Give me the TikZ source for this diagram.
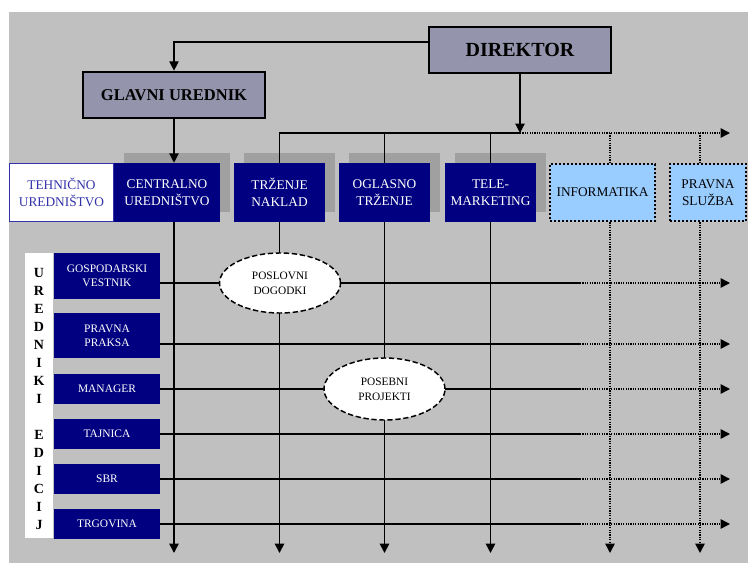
\documentclass[tikz,border=0pt]{standalone}
\usepackage{fontspec}
\setmainfont{Liberation Serif}
\usetikzlibrary{arrows.meta,shapes.geometric,shadows}
\definecolor{bg}{HTML}{C0C0C0}
\definecolor{shade}{HTML}{A0A0A0}
\definecolor{navy}{HTML}{000080}
\definecolor{slate}{HTML}{9494AC}
\definecolor{skyb}{HTML}{99CCFF}
\definecolor{tblue}{HTML}{3333AA}
\begin{document}
\begin{tikzpicture}[x=0.75pt,y=-0.75pt,
  head/.style={draw=black, line width=2pt, fill=slate, inner sep=0pt,
    minimum width=136.5pt, minimum height=34.5pt},
  unit/.style={fill=navy, text=white, font=\fontsize{10}{12.75}\selectfont,
    align=center, inner sep=0pt, minimum height=44.25pt,
    general shadow={fill=shade, shadow xshift=7.5pt, shadow yshift=7.5pt}},
  techbox/.style={fill=white, draw=tblue, line width=0.8pt, text=tblue,
    font=\fontsize{10}{12.75}\selectfont, align=center, inner sep=0pt,
    minimum height=43.5pt},
  dotbox/.style={fill=skyb, draw=black, line width=2pt, dash pattern=on 1.5pt off 1.5pt,
    font=\fontsize{10}{12.75}\selectfont, align=center, inner sep=0pt,
    minimum height=42.75pt},
  edition/.style={fill=navy, text=white, font=\fontsize{8.6}{10.5}\selectfont,
    align=center, inner sep=0pt, minimum width=79.5pt},
  event/.style={ellipse, draw=black, fill=white, line width=1.1pt,
    dash pattern=on 4pt off 2pt, font=\fontsize{8.5}{11}\selectfont,
    align=center, inner sep=0pt, minimum width=90.75pt},
  conn/.style={draw=black, line width=1.2pt},
  topconn/.style={draw=black, line width=0.9pt},
  dotline/.style={draw=black, line width=1.1pt, dash pattern=on 0.9pt off 0.9pt},
  tip/.style={-{Triangle[length=7pt,width=7pt]}}
]
\useasboundingbox (0,0) rectangle (748,563);
\fill[bg] (9,12) rectangle (748,563);

% management
\node[head, font=\fontsize{15}{18}\selectfont\bfseries] (dir) at (520,50) {DIREKTOR};
\node[head, font=\fontsize{12.4}{15}\selectfont\bfseries] (glav) at (174,95) {GLAVNI UREDNIK};

% departments
\node[techbox, minimum width=78pt] (teh) at (61.5,192.5) {TEHNIČNO\\UREDNIŠTVO};
\node[unit, minimum width=79.5pt] (cen) at (167,192.5) {CENTRALNO\\UREDNIŠTVO};
\node[unit, minimum width=68.25pt] (trz) at (279.5,192.5) {TRŽENJE\\NAKLAD};
\node[unit, minimum width=68.25pt] (ogl) at (384.5,192.5) {OGLASNO\\TRŽENJE};
\node[unit, minimum width=68.25pt] (tel) at (490.5,192.5) {TELE-\\MARKETING};
\node[dotbox, minimum width=78.75pt] (inf) at (602.5,192.5) {INFORMATIKA};
\node[dotbox, minimum width=57pt] (prav) at (708,192.5) {PRAVNA\\SLUŽBA};

% editions
\node[fill=white, minimum width=21pt, minimum height=213.75pt, inner sep=0pt] (strip) at (39,395.5) {};
\node[font=\fontsize{10.5}{13.5}\selectfont\bfseries, align=center, inner sep=0pt] (ured) at (39,399)
  {U\\R\\E\\D\\N\\I\\K\\I\\[13.5pt]E\\D\\I\\C\\I\\J};
\node[edition, minimum height=34.5pt] (e1) at (107,276) {GOSPODARSKI\\VESTNIK};
\node[edition, minimum height=33.75pt] (e2) at (107,335.5) {PRAVNA\\PRAKSA};
\node[edition, minimum height=22.5pt] (e3) at (107,389) {MANAGER};
\node[edition, minimum height=22.5pt] (e4) at (107,434) {TAJNICA};
\node[edition, minimum height=22.5pt] (e5) at (107,479) {SBR};
\node[edition, minimum height=22.5pt] (e6) at (107,524) {TRGOVINA};

% reference points of the line grid
\coordinate (bus) at (520,133);
\coordinate (busend) at (730,133);
\coordinate (infx) at (610,133);
\coordinate (pravx) at (700,133);
\coordinate (bot) at (0,553);

% top connectors
\draw[topconn, tip] ([yshift=6pt]dir.west) -| (glav.north);
\draw[topconn, tip] (dir.south) -- (bus);
\draw[topconn] (trz.north) |- (bus);
\draw[topconn] (ogl.north) -- (ogl.north |- bus);
\draw[topconn] (tel.north) -- (tel.north |- bus);
\draw[dotline, tip] (bus) -- (busend);
\draw[dotline] (infx) -- (infx |- inf.north);
\draw[dotline] (pravx) -- (pravx |- prav.north);
\draw[topconn, tip] (glav.south) -- (glav.south |- cen.north);

% rows from the editions
\foreach \n/\y in {1/283,2/344,3/389,4/434,5/479,6/524}{
  \coordinate (s\n) at (580,\y);
  \draw[conn] (e\n.east |- s\n) -- (s\n);
  \draw[dotline, tip] (s\n) -- ++(150,0);
}

% columns from the departments
\draw[conn, tip] (glav.south |- cen.south) -- (glav.south |- bot);
\draw[conn, tip] (trz.south) -- (trz.south |- bot);
\draw[conn, tip] (ogl.south) -- (ogl.south |- bot);
\draw[conn, tip] (tel.south) -- (tel.south |- bot);
\draw[dotline, tip] (infx |- inf.south) -- (infx |- bot);
\draw[dotline, tip] (pravx |- prav.south) -- (pravx |- bot);

% projects
\node[event, minimum height=45pt] (posl) at (280,283) {POSLOVNI\\DOGODKI};
\node[event, minimum height=46.5pt] (pose) at (384.5,389) {POSEBNI\\PROJEKTI};
\end{tikzpicture}
\end{document}
